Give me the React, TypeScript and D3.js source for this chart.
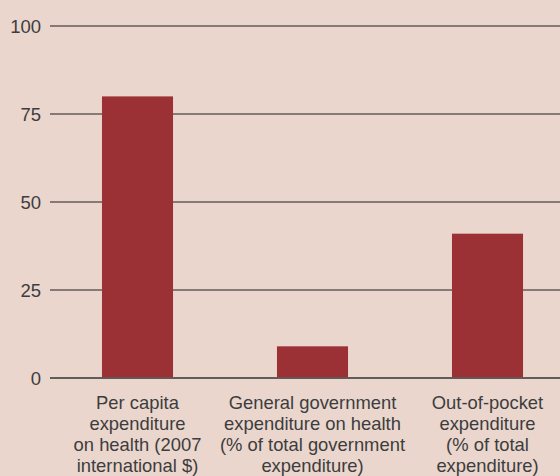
import React from "react";
import * as d3 from "d3";

const categories: string[][] = [
  ["Per capita", "expenditure", "on health (2007", "international $)"],
  ["General government", "expenditure on health", "(% of total government", "expenditure)"],
  ["Out-of-pocket", "expenditure", "(% of total", "expenditure)"],
];
const values: number[] = [80, 9, 41];
const yTicks: number[] = [0, 25, 50, 75, 100];

const W = 560;
const H = 476;

export default function App() {
  const keys = categories.map((_, i) => String(i));
  const x = d3.scaleBand<string>().domain(keys).range([50, 575]).padding(0);
  const y = d3.scaleLinear().domain([0, 100]).range([378, 26]);
  const barW = x.bandwidth() * 0.406;
  const font = "'Liberation Sans', Arial, sans-serif";

  return (
    <svg
      width={W}
      height={H}
      style={{ position: "absolute", left: 0, top: 0, display: "block" }}
    >
      <rect x={0} y={0} width={W} height={H} fill="#ead6cd" />
      {yTicks.map((t) => (
        <g key={t}>
          <line
            x1={50}
            x2={W}
            y1={y(t)}
            y2={y(t)}
            stroke={t === 0 ? "#333" : "#655b58"}
            strokeWidth={t === 0 ? 1.6 : 1.3}
          />
          <text
            x={41}
            y={y(t)}
            dy="0.36em"
            textAnchor="end"
            fontFamily={font}
            fontSize={18.5}
            fill="#3d3d3d"
          >
            {t}
          </text>
        </g>
      ))}
      {values.map((v, i) => {
        const cx = (x(String(i)) as number) + x.bandwidth() / 2;
        return (
          <rect
            key={i}
            x={cx - barW / 2}
            y={y(v)}
            width={barW}
            height={y(0) - y(v) - 0.8}
            fill="#9b3134"
          />
        );
      })}
      {categories.map((lines, i) => {
        const cx = (x(String(i)) as number) + x.bandwidth() / 2;
        return (
          <text
            key={i}
            x={cx}
            textAnchor="middle"
            fontFamily={font}
            fontSize={18.4}
            fill="#3d3d3d"
          >
            {lines.map((l, j) => (
              <tspan key={j} x={cx} y={409 + j * 21}>
                {l}
              </tspan>
            ))}
          </text>
        );
      })}
    </svg>
  );
}
